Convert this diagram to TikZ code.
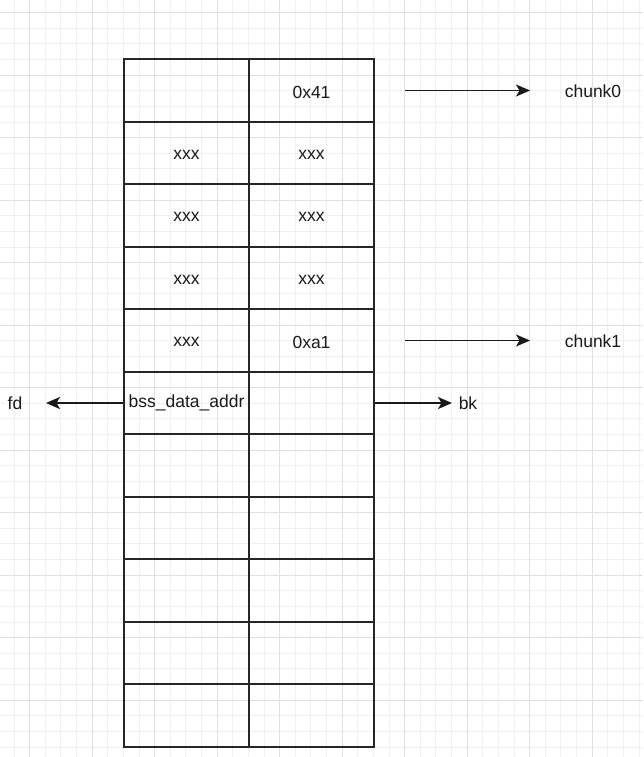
\documentclass[tikz,border=0pt]{standalone}
\usepackage{fontspec}
\setmainfont{Liberation Sans}
\usetikzlibrary{arrows.meta}
\definecolor{gminor}{HTML}{F0F0F0}
\definecolor{gmajor}{HTML}{E0E0E0}
\definecolor{txt}{HTML}{1A1A1A}
\tikzset{
  minorline/.style={draw=gminor,line width=1pt},
  majorline/.style={draw=gmajor,line width=1.2pt},
  cell/.style={draw=black!85,line width=2pt,minimum width=125pt,minimum height=62.5pt,inner sep=0pt,
    font=\fontsize{17.5}{20}\selectfont,text=txt},
  lbl/.style={font=\fontsize{17.5}{20}\selectfont,text=txt,inner sep=0pt},
  arr/.style={draw=black!90,line width=1.7pt,-{Stealth[length=14pt,width=12pt,inset=3.5pt]}}
}
\begin{document}
\begin{tikzpicture}[x=1pt,y=-1pt]
\fill[white] (0,0) rectangle (643,757);
\useasboundingbox (0,0) rectangle (643,757);
% grid
\foreach \i in {0,...,40} {\draw[minorline] ({14.07+15.625*\i},0) -- ({14.07+15.625*\i},757);}
\foreach \j in {0,...,48} {\draw[minorline] (0,{12.7+15.625*\j}) -- (643,{12.7+15.625*\j});}
\foreach \i in {0,...,10} {\draw[majorline] ({29.7+62.5*\i},0) -- ({29.7+62.5*\i},757);}
\foreach \j in {0,...,12} {\draw[majorline] (0,{12.7+62.5*\j}) -- (643,{12.7+62.5*\j});}
% table cells
\foreach \r in {0,...,10} {
  \foreach \c in {0,1} {
    \node[cell] (c-\r-\c) at ({186.5+125*\c},{90.55+62.5*\r}) {};
  }
}
\node[lbl] at ([yshift=-1.5pt]c-0-1) {0x41};
\node[lbl] at ([yshift=-1.5pt]c-1-0) {xxx};
\node[lbl] at ([yshift=-1.5pt]c-1-1) {xxx};
\node[lbl] at ([yshift=-1.5pt]c-2-0) {xxx};
\node[lbl] at ([yshift=-1.5pt]c-2-1) {xxx};
\node[lbl] at ([yshift=-1.5pt]c-3-0) {xxx};
\node[lbl] at ([yshift=-1.5pt]c-3-1) {xxx};
\node[lbl] at ([yshift=-1.5pt]c-4-0) {xxx};
\node[lbl] at ([yshift=-1.5pt]c-4-1) {0xa1};
\node[lbl] at (c-5-0) {bss\_data\_addr};
% arrows and labels
\coordinate (s0) at (405,90.5);
\coordinate (e0) at (530,90.5);
\node[lbl] (chunk0) at (593,91) {chunk0};
\draw[arr] (s0) -- (e0);
\coordinate (s1) at (405,340.5);
\coordinate (e1) at (530,340.5);
\node[lbl] (chunk1) at (593,341) {chunk1};
\draw[arr] (s1) -- (e1);
\coordinate (efd) at (46,403);
\node[lbl] (fd) at (15,403.5) {fd};
\draw[arr] (c-5-0.west) -- (efd);
\coordinate (ebk) at (452,403);
\node[lbl] (bk) at (468,403.5) {bk};
\draw[arr] (c-5-1.east) -- (ebk);
\end{tikzpicture}
\end{document}
